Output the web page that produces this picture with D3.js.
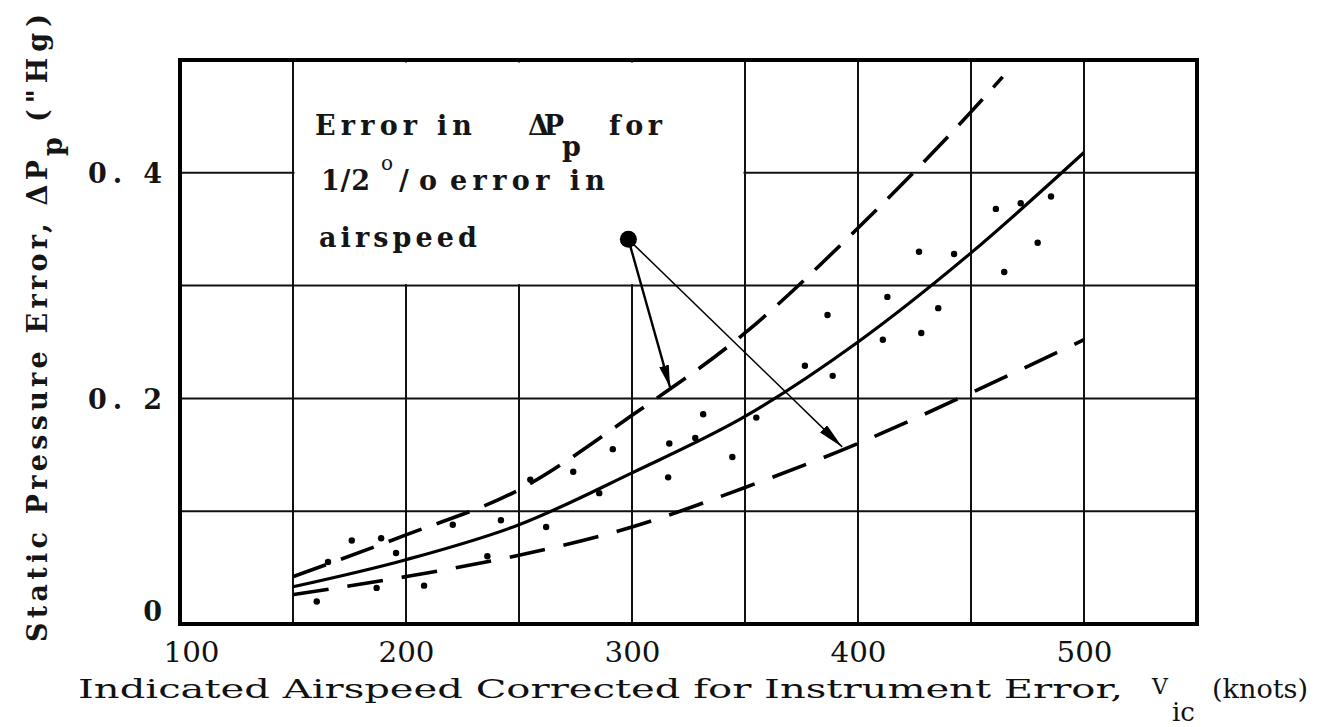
<!DOCTYPE html>
<html><head><meta charset="utf-8">
<script src="https://cdn.jsdelivr.net/npm/d3@7"></script>
<style>body{margin:0;background:#fff}svg{display:block}text{white-space:pre}</style>
</head><body>
<svg id="c" width="1320" height="727"></svg>
<script>
// ---- data ----
const xTickValues = [100, 200, 300, 400, 500];
const yTickValues = [0, 0.2, 0.4];
const yTickLabels = ["0", "0. 2", "0. 4"];
const xGridValues = [100, 150, 200, 250, 300, 350, 400, 450, 500, 550];
const yGridValues = [0, 0.1, 0.2, 0.3, 0.4, 0.5];

const solidCurve = [[150,0.033],[200,0.057],[250,0.088],[300,0.134],[350,0.184],[400,0.250],[450,0.329],[500,0.418]];
const upperDashed = [[150,0.042],[200,0.079],[250,0.119],[300,0.185],[350,0.258],[400,0.351],[450,0.454],[464,0.485]];
const lowerDashed = [[150,0.026],[200,0.042],[250,0.061],[300,0.086],[350,0.121],[400,0.160],[450,0.205],[500,0.252]];
const testPoints = [
 [160.5,0.020],[165.5,0.055],[176,0.074],[187,0.032],[189,0.076],[195.6,0.063],[208,0.034],
 [220.7,0.088],[236,0.060],[242,0.092],[255,0.128],[262,0.086],[274,0.135],[285.5,0.116],
 [291.5,0.155],[316,0.130],[316.5,0.160],[328,0.165],[331.5,0.186],[344.4,0.148],[355,0.183],
 [376.5,0.229],[386.5,0.274],[388.8,0.220],[411,0.252],[413,0.290],[427,0.330],[428,0.258],
 [435.5,0.280],[442.5,0.328],[461,0.368],[464.7,0.312],[472,0.373],[479.5,0.338],[485.4,0.379]
];
const calloutBox = [[150,0.3],[350,0.5]];
const calloutDot = [298.4, 0.341];
const arrowTargets = [[316.8,0.210],[393,0.157]];

// ---- layout ----
const svg = d3.select("#c");
const x = d3.scaleLinear().domain([100,550]).range([180,1197]);
const y = d3.scaleLinear().domain([0,0.5]).range([624,60]);

// grid
const g = svg.append("g");
g.selectAll(".vg").data(xGridValues).join("line")
  .attr("x1", d=>x(d)).attr("x2", d=>x(d)).attr("y1", y(0)).attr("y2", y(0.5))
  .attr("stroke","#111").attr("stroke-width",2);
g.selectAll(".hg").data(yGridValues).join("line")
  .attr("y1", d=>y(d)).attr("y2", d=>y(d)).attr("x1", x(100)).attr("x2", x(550))
  .attr("stroke","#111").attr("stroke-width",2);

// callout box (white area, no grid inside)
svg.append("rect")
  .attr("x", x(calloutBox[0][0]) + 1.5).attr("y", y(calloutBox[1][1]) + 2.5)
  .attr("width", x(calloutBox[1][0]) - x(calloutBox[0][0]) - 3)
  .attr("height", y(calloutBox[0][1]) - y(calloutBox[1][1]) - 4)
  .attr("fill","#fff");

// frame
svg.append("rect").attr("x", x(100)).attr("y", y(0.5))
  .attr("width", x(550)-x(100)).attr("height", y(0)-y(0.5))
  .attr("fill","none").attr("stroke","#000").attr("stroke-width",4);

// typewriter style
const tw = {"font-family":"'DejaVu Serif'","font-weight":"bold","font-size":27,"fill":"#151515"};

// axes (labels only)
const xAxis = d3.axisBottom(x).tickValues(xTickValues).tickSize(0).tickPadding(0).tickFormat(d3.format("d"));
const ax = svg.append("g").attr("transform", `translate(0,${y(0)})`).call(xAxis);
ax.select(".domain").remove();
ax.selectAll("text").attr("font-family","'DejaVu Serif'").attr("font-size",27)
  .attr("fill","#111").attr("dy",null).attr("y",38)
  .attr("textLength",56).attr("lengthAdjust","spacingAndGlyphs")
  .attr("dx", d => d===100 ? 11 : 0);

const yAxis = d3.axisLeft(y).tickValues(yTickValues).tickSize(0).tickPadding(0)
  .tickFormat((d,i)=>yTickLabels[i]);
const ay = svg.append("g").attr("transform", `translate(162,0)`).call(yAxis);
ay.select(".domain").remove();
ay.selectAll("text").each(function(){ const s=d3.select(this); Object.entries(tw).forEach(([k,v])=>s.attr(k,v)); })
  .attr("dy",null).attr("y", d => d===0 ? -4 : 10)
  .attr("textLength", d => d===0 ? null : 74).attr("lengthAdjust","spacing");

// curves
const line = d3.line().x(d=>x(d[0])).y(d=>y(d[1])).curve(d3.curveMonotoneX);
svg.append("path").attr("d", line(solidCurve)).attr("fill","none")
  .attr("stroke","#000").attr("stroke-width",3.2);
svg.append("path").attr("d", line(upperDashed)).attr("fill","none")
  .attr("stroke","#000").attr("stroke-width",3.6).attr("stroke-dasharray","35 16");
svg.append("path").attr("d", line(lowerDashed)).attr("fill","none")
  .attr("stroke","#000").attr("stroke-width",3.6).attr("stroke-dasharray","36 19");

// points
svg.selectAll(".pt").data(testPoints).join("circle")
  .attr("cx", d=>x(d[0])).attr("cy", d=>y(d[1])).attr("r",3.2).attr("fill","#000");

// callout arrows
const defs = svg.append("defs");
defs.append("marker").attr("id","ah1").attr("markerUnits","userSpaceOnUse")
  .attr("viewBox","0 0 22 10").attr("refX",22).attr("refY",5)
  .attr("markerWidth",22).attr("markerHeight",10).attr("orient","auto")
  .append("path").attr("d","M0,0 L22,5 L0,10 Z").attr("fill","#000");
defs.append("marker").attr("id","ah2").attr("markerUnits","userSpaceOnUse")
  .attr("viewBox","0 0 26 10").attr("refX",26).attr("refY",5)
  .attr("markerWidth",26).attr("markerHeight",10).attr("orient","auto")
  .append("path").attr("d","M0,0 L26,5 L0,10 Z").attr("fill","#000");

svg.append("line").attr("x1", x(calloutDot[0])).attr("y1", y(calloutDot[1]))
  .attr("x2", x(arrowTargets[0][0])).attr("y2", y(arrowTargets[0][1]))
  .attr("stroke","#000").attr("stroke-width",2.4).attr("marker-end","url(#ah1)");
svg.append("line").attr("x1", x(calloutDot[0])).attr("y1", y(calloutDot[1]))
  .attr("x2", x(arrowTargets[1][0])).attr("y2", y(arrowTargets[1][1]))
  .attr("stroke","#000").attr("stroke-width",1.5).attr("marker-end","url(#ah2)");
svg.append("circle").attr("cx", x(calloutDot[0])).attr("cy", y(calloutDot[1]))
  .attr("r",8.5).attr("fill","#000");

// callout text
function T(str, px, py, len, extra){
  const t = svg.append("text").attr("x",px).attr("y",py).text(str);
  Object.entries(Object.assign({}, tw, extra||{})).forEach(([k,v])=>t.attr(k,v));
  if(len) t.attr("textLength",len).attr("lengthAdjust","spacing");
  return t;
}
T("Error in", 315, 135, 157);
T("ΔP", 528, 135, 36);
T("p", 562, 156);
T("for", 609, 135, 53);
T("1/2", 321, 190, 49);
T("o", 381, 170, null, {"font-size":20, "font-weight":"normal"});
T("/o", 399, 190, 38);
T("error in", 450, 190, 155);
T("airspeed", 319, 247, 158);

// y-axis title (rotated)
const yt = svg.append("g").attr("transform","rotate(-90)");
function YT(str, lx, ly, len){
  const t = yt.append("text").attr("x",lx).attr("y",ly).text(str);
  Object.entries(tw).forEach(([k,v])=>t.attr(k,v));
  if(len) t.attr("textLength",len).attr("lengthAdjust","spacing");
  return t;
}
YT("Static Pressure Error, ΔP", -642, 47, 482);
YT("p", -156, 62);
YT("(\"Hg)", -122, 47, 108);

// x-axis title
const xf = {"font-family":"'DejaVu Serif'","font-size":26,"fill":"#111"};
function XT(str, px, py, len, extra){
  const t = svg.append("text").attr("x",px).attr("y",py).text(str);
  Object.entries(Object.assign({}, xf, extra||{})).forEach(([k,v])=>t.attr(k,v));
  if(len) t.attr("textLength",len).attr("lengthAdjust","spacingAndGlyphs");
  return t;
}
XT("Indicated Airspeed Corrected for Instrument Error,", 78, 698, 1045);
XT("V", 1152, 694, null, {"font-size":22});
XT("ic", 1172, 721);
XT("(knots)", 1212, 698, 96);
</script>
</body></html>
